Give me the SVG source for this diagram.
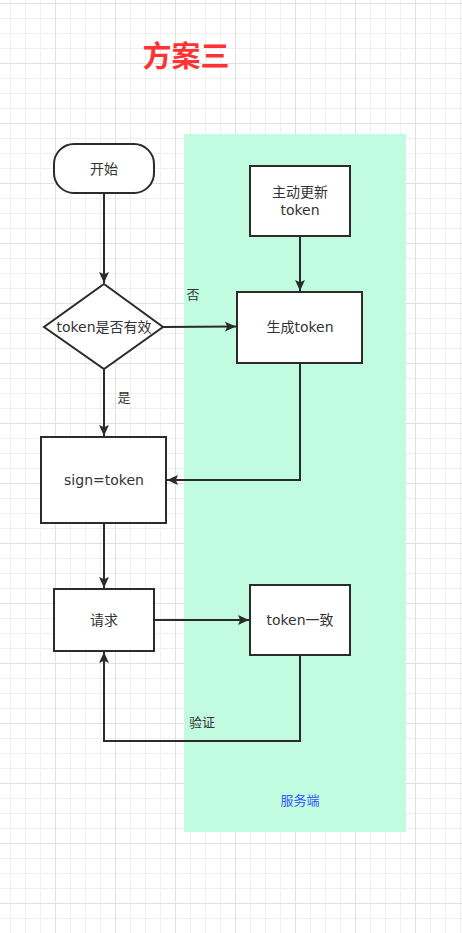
<svg xmlns="http://www.w3.org/2000/svg" width="462" height="933" viewBox="0 0 462 933">
<defs>
<pattern id="grid" patternUnits="userSpaceOnUse" x="-5" y="3" width="60" height="60">
<rect width="60" height="60" fill="#ffffff"/>
<rect x="15" y="0" width="1" height="60" fill="#efefef"/>
<rect x="30" y="0" width="1" height="60" fill="#efefef"/>
<rect x="45" y="0" width="1" height="60" fill="#efefef"/>
<rect x="0" y="15" width="60" height="1" fill="#efefef"/>
<rect x="0" y="30" width="60" height="1" fill="#efefef"/>
<rect x="0" y="45" width="60" height="1" fill="#efefef"/>
<rect x="0" y="0" width="1" height="60" fill="#e0e0e0"/>
<rect x="0" y="0" width="60" height="1" fill="#e0e0e0"/>
</pattern>
<marker id="arr" viewBox="0 0 10 10" refX="10" refY="5" markerWidth="11" markerHeight="11" markerUnits="userSpaceOnUse" orient="auto">
<path d="M0,0.5 L10,5 L0,9.5 L2,5 Z" fill="#2b2b2b"/>
</marker>
<style>
.node{fill:#ffffff;stroke:#2b2b2b;stroke-width:2}
.t{font-family:"DejaVu Sans","Noto Sans CJK SC",sans-serif;font-size:14px;fill:#333333;text-anchor:middle;dominant-baseline:central}
.edge{fill:none;stroke:#2b2b2b;stroke-width:2}
</style>
</defs>
<rect width="462" height="933" fill="url(#grid)"/>
<rect id="server-zone" x="184" y="134" width="222" height="698" fill="#c2fce0"/>
<text x="186" y="54" style="font-family:'Noto Sans CJK SC',sans-serif;font-size:29px;font-weight:bold;fill:#ff3333;text-anchor:middle;dominant-baseline:central">方案三</text>
<text class="t" x="300" y="800" style="fill:#3355ff;font-size:13px">服务端</text>

<g id="connectors">
<line class="edge" x1="104" y1="193" x2="104" y2="283" marker-end="url(#arr)"/>
<line class="edge" x1="163" y1="327" x2="236" y2="326.5" marker-end="url(#arr)"/>
<text class="t" x="193" y="294" style="font-size:13px">否</text>
<line class="edge" x1="300" y1="236" x2="300" y2="291" marker-end="url(#arr)"/>
<polyline class="edge" points="300,363 300,480 167,480" marker-end="url(#arr)"/>
<line class="edge" x1="104" y1="369" x2="104" y2="436" marker-end="url(#arr)"/>
<text class="t" x="124" y="397" style="font-size:13px">是</text>
<line class="edge" x1="104" y1="523" x2="104" y2="588" marker-end="url(#arr)"/>
<line class="edge" x1="154" y1="620" x2="249" y2="620" marker-end="url(#arr)"/>
<polyline class="edge" points="300,655 300,741 104,741 104,652" marker-end="url(#arr)"/>
<text class="t" x="202" y="722" style="font-size:13px">验证</text>
</g>

<g id="start">
<rect class="node" x="54" y="144" width="100" height="49" rx="20" ry="20"/>
<text class="t" x="104" y="169">开始</text>
</g>
<g id="decision">
<polygon class="node" points="104,284 163,327 104,369 44,327"/>
<text class="t" x="104" y="327">token是否有效</text>
</g>
<g id="refresh">
<rect class="node" x="250" y="166" width="100" height="70"/>
<text class="t" x="300" y="192">主动更新</text>
<text class="t" x="300" y="210">token</text>
</g>
<g id="generate">
<rect class="node" x="237" y="292" width="125" height="71"/>
<text class="t" x="300" y="327">生成token</text>
</g>
<g id="sign">
<rect class="node" x="41" y="437" width="125" height="86"/>
<text class="t" x="104" y="480">sign=token</text>
</g>
<g id="request">
<rect class="node" x="54" y="589" width="100" height="62"/>
<text class="t" x="104" y="620">请求</text>
</g>
<g id="match">
<rect class="node" x="250" y="585" width="100" height="70"/>
<text class="t" x="300" y="620">token一致</text>
</g>
</svg>
